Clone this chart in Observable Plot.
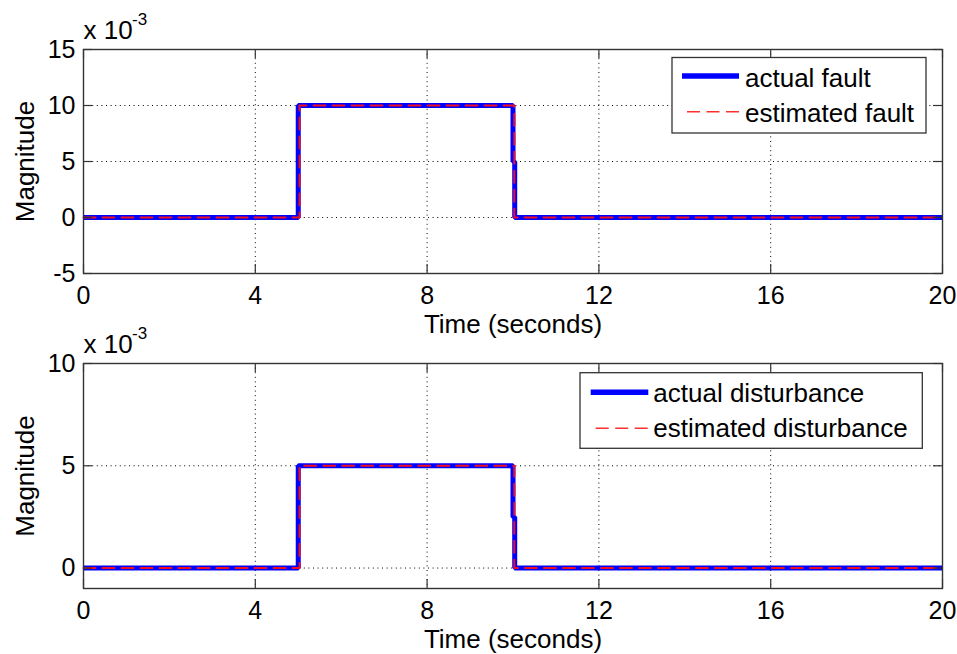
<!DOCTYPE html>
<html><head><meta charset="utf-8">
<script src="https://cdn.jsdelivr.net/npm/d3@7"></script>
<script src="https://cdn.jsdelivr.net/npm/@observablehq/plot@0.6"></script>
<style>
body{margin:0;background:#fff;}
#chart{width:957px;height:654px;position:relative;overflow:hidden;background:#fff;}
#chart svg{display:block;}
</style></head><body><div id="chart"></div>
<script>
// ---- data ----
const faultTime = [0, 5, 5, 10, 10, 10.04, 10.04, 20];
const faultActual = [0, 0, 0.01, 0.01, 0.005, 0.005, 0, 0];
const faultEstTime = [0, 5.03, 5.03, 10.03, 10.03, 20];
const faultEstimated = [0, 0, 0.01, 0.01, 0, 0];
const distTime = [0, 5, 5, 10, 10, 10.04, 10.04, 20];
const distActual = [0, 0, 0.005, 0.005, 0.0025, 0.0025, 0, 0];
const distEstTime = [0, 5.03, 5.03, 10.03, 10.03, 20];
const distEstimated = [0, 0, 0.005, 0.005, 0, 0];
const xTicks = [0, 4, 8, 12, 16, 20];
const faultYTicks = [-0.005, 0, 0.005, 0.01, 0.015];
const distYTicks = [0, 0.005, 0.01];
const faultLegend = ["actual fault", "estimated fault"];
const distLegend = ["actual disturbance", "estimated disturbance"];
const xLabel = "Time (seconds)";
const yLabel = "Magnitude";
const exponentBase = "x 10";
const exponentPower = "-3";

// ---- style ----
const FONT = "'Liberation Sans', Arial, Helvetica, sans-serif";
const AX = "#333";
const TICK = 9;
const W = 957, ML = 83, MR = 15;

function zip(ts, vs) { return ts.map((t, i) => ({t, v: vs[i]})); }

function panel(o) {
  const innerH = o.height - o.marginTop - o.marginBottom;
  const innerW = W - ML - MR;
  const svg = Plot.plot({
    width: W, height: o.height,
    marginTop: o.marginTop, marginBottom: o.marginBottom, marginLeft: ML, marginRight: MR,
    style: {fontFamily: FONT, fontSize: "25px", color: "#000", background: "transparent", overflow: "visible"},
    x: {domain: [0, 20]},
    y: {domain: o.yDomain},
    marks: [
      Plot.gridX(xTicks, {stroke: "#000", strokeOpacity: 1, strokeDasharray: "1,3.6"}),
      Plot.gridY(o.yTicks, {stroke: "#000", strokeOpacity: 1, strokeDasharray: "1,3.6"}),
      Plot.line(o.actual, {x: "t", y: "v", stroke: "#0000ff", strokeWidth: 5, strokeLinejoin: "miter", strokeLinecap: "butt"}),
      Plot.line(o.estimated, {x: "t", y: "v", stroke: "#ee1020", strokeWidth: 2, strokeDasharray: "12,7"}),
      Plot.tickX(xTicks, {x: d => d, insetTop: innerH - TICK, stroke: AX, strokeWidth: 1.2}),
      Plot.tickX(xTicks, {x: d => d, insetBottom: innerH - TICK, stroke: AX, strokeWidth: 1.2}),
      Plot.tickY(o.yTicks, {y: d => d, insetRight: innerW - TICK, stroke: AX, strokeWidth: 1.2}),
      Plot.tickY(o.yTicks, {y: d => d, insetLeft: innerW - TICK, stroke: AX, strokeWidth: 1.2}),
      Plot.frame({stroke: AX, strokeWidth: 1.4}),
      Plot.axisX(xTicks, {tickSize: 0, tickPadding: 13, label: null, tickFormat: d => String(d)}),
      Plot.axisY(o.yTicks, {tickSize: 0, tickPadding: 8, label: null, tickFormat: d => String(Math.round(d * 1000))}),
      Plot.text([xLabel], {text: d => d, frameAnchor: "bottom", textAnchor: "middle", lineAnchor: "middle", dy: 51.5, fontSize: 26}),
      Plot.text([yLabel], {text: d => d, frameAnchor: "left", textAnchor: "middle", lineAnchor: "middle", dx: -58, rotate: -90, fontSize: 26}),
      Plot.text([exponentBase], {text: d => d, frameAnchor: "top-left", textAnchor: "start", lineAnchor: "middle", dy: -18.5, fontSize: 26}),
      Plot.text([exponentPower], {text: d => d, frameAnchor: "top-left", textAnchor: "start", lineAnchor: "middle", dx: 48.5, dy: -30, fontSize: 17})
    ]
  });
  // legend
  const L = o.legend;
  const g = d3.select(svg).append("g").attr("font-family", FONT).attr("font-size", 26).attr("text-anchor", "start");
  g.append("rect").attr("x", L.x).attr("y", L.y).attr("width", L.w).attr("height", L.h)
    .attr("fill", "#fff").attr("stroke", AX).attr("stroke-width", 1.3);
  g.append("line").attr("x1", L.x1).attr("x2", L.x2).attr("y1", L.rows[0]).attr("y2", L.rows[0])
    .attr("stroke", "#0000ff").attr("stroke-width", 5.5);
  g.append("line").attr("x1", L.x1 + 5).attr("x2", L.x2).attr("y1", L.rows[1]).attr("y2", L.rows[1])
    .attr("stroke", "#ff3030").attr("stroke-width", 1.5).attr("stroke-dasharray", "13,6.5");
  o.labels.forEach((lab, i) => {
    g.append("text").attr("x", L.tx).attr("y", L.base[i]).attr("fill", "#000").attr("text-anchor", "start").text(lab);
  });
  return svg;
}

const root = document.getElementById("chart");
root.appendChild(panel({
  height: 330, marginTop: 49, marginBottom: 57,
  yDomain: [-0.005, 0.015], yTicks: faultYTicks,
  actual: zip(faultTime, faultActual), estimated: zip(faultEstTime, faultEstimated),
  labels: faultLegend,
  legend: {x: 672, y: 57.5, w: 254, h: 75.5, x1: 682, x2: 739, tx: 745, rows: [76, 111.7], base: [86.7, 121.7]}
}));
root.appendChild(panel({
  height: 324, marginTop: 33, marginBottom: 66,
  yDomain: [-0.001, 0.01], yTicks: distYTicks,
  actual: zip(distTime, distActual), estimated: zip(distEstTime, distEstimated),
  labels: distLegend,
  legend: {x: 580, y: 42.7, w: 342.3, h: 75.6, x1: 590.7, x2: 648.3, tx: 653.3, rows: [62.3, 98.3], base: [72.3, 106.7]}
}));
</script></body></html>
